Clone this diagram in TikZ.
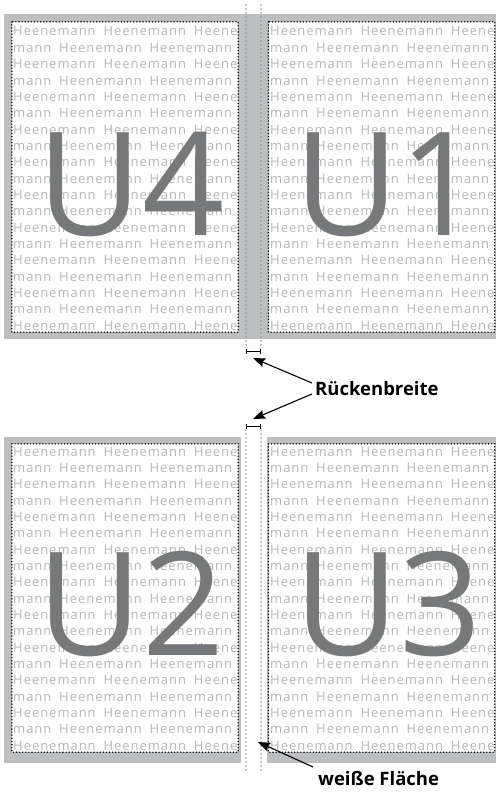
\documentclass[tikz,border=0pt]{standalone}
\usepackage{fontspec}
\setmainfont{Open Sans}
\newfontfamily\fillfont[LetterSpace=7.5, WordSpace=1.8]{Open Sans}
\usepackage{xcolor}
\usetikzlibrary{arrows,arrows.meta,positioning}

\definecolor{bandgray}{HTML}{BCBEC0}
\definecolor{fillgray}{HTML}{B6B7BA}
\definecolor{biggray}{HTML}{77787B}
\definecolor{guidegray}{HTML}{8E9093}

% rows of filler text inside one page (x, first baseline)
\newcommand{\heenerows}[2]{%
  \foreach \k in {0,2,...,18}
    \node[filltext] (row\k) at (#1,{#2+\k*16.35}) {Heenemann Heenemann Heenemann};
  \foreach \k in {1,3,...,17}
    \node[filltext] (row\k) at (#1,{#2+\k*16.35}) {\llap{Heene}mann Heenemann Heenemann};
}

\begin{document}
\begin{tikzpicture}[
    x=1pt, y=-1pt,
    pagebox/.style={fill=white, minimum width=226pt, minimum height=310pt, inner sep=0pt},
    frame/.style={line width=1.6pt, line cap=round, dash pattern=on 0pt off 3.1pt},
    guide/.style={draw=guidegray, line width=1.6pt, line cap=round, dash pattern=on 0pt off 4pt},
    filltext/.style={font=\fillfont\fontsize{13}{15}\selectfont, text=fillgray, inner sep=0pt, anchor=base west},
    big/.style={font=\fontsize{144}{144}\selectfont, text=biggray, inner sep=0pt, anchor=base},
    label/.style={font=\bfseries\fontsize{18.5}{22}\selectfont, inner sep=0pt, anchor=west},
    dimbar/.style={{Bar[width=5pt]}-{Bar[width=5pt]}, line width=0.9pt},
    arrow/.style={-{Stealth[length=12pt,width=9pt,inset=1.5pt]}, line width=1.1pt}
]
\useasboundingbox (0,0) rectangle (496,792);

% cover U4 / U1
\fill[bandgray] (4,14) rectangle (496,339);
\node[pagebox] (u4page) at (125,177) {};
\node[pagebox] (u1page) at (381.5,177) {};

% inside U2 / U3
\fill[bandgray] (4,437) rectangle (496,763);
\node[pagebox, minimum height=308pt] (u2page) at (125,598) {};
\node[pagebox, minimum height=308pt] (u3page) at (381.5,598) {};
\fill[white] (241,437) rectangle (267,763);

% filler text
\foreach \pg/\x/\y in {u4page/13/36, u1page/270/36, u2page/13/456, u3page/270/456} {
  \begin{scope}
    \clip (\pg.north west) rectangle (\pg.south east);
    \heenerows{\x}{\y}
  \end{scope}
}

% big page names
\node[big] (u4) at (131,235) {U4};
\node[big] (u1) at (388,235) {U1};
\node[big] (u2) at (131,655) {U2};
\node[big] (u3) at (388,655) {U3};

% page borders
\foreach \pg in {u4page, u1page, u2page, u3page}
  \draw[frame] (\pg.north west) rectangle (\pg.south east);

% spine guides
\coordinate (g1top) at (246,5);
\coordinate (g2top) at (261,5);
\coordinate (g1mid) at (246,347);
\coordinate (g2mid) at (261,347);
\coordinate (g1low) at (246,430);
\coordinate (g2low) at (261,430);
\coordinate (g1bot) at (246,771);
\coordinate (g2bot) at (261,771);
\draw[guide] (g1top) -- (g1mid);
\draw[guide] (g2top) -- (g2mid);
\draw[guide] (g1low) -- (g1bot);
\draw[guide] (g2low) -- (g2bot);

% spine width marks
\coordinate (bar1l) at (246,351);
\coordinate (bar1r) at (261,351);
\coordinate (bar2l) at (246,426);
\coordinate (bar2r) at (261,426);
\draw[dimbar] (bar1l) -- (bar1r);
\draw[dimbar] (bar2l) -- (bar2r);

% labels
\node[label] (breite) at (315,389) {Rückenbreite};
\node[label] (weiss) at (318,779) {weiße Fläche};

\coordinate (tip1) at (253,358);
\coordinate (tip2) at (253,419);
\coordinate (tip3) at (258,742);
\draw[arrow] ([shift={(-3pt,6pt)}]breite.west) -- (tip1);
\draw[arrow] ([shift={(-3pt,-5pt)}]breite.west) -- (tip2);
\draw[arrow] ([shift={(-5pt,12pt)}]weiss.west) -- (tip3);

\end{tikzpicture}
\end{document}
